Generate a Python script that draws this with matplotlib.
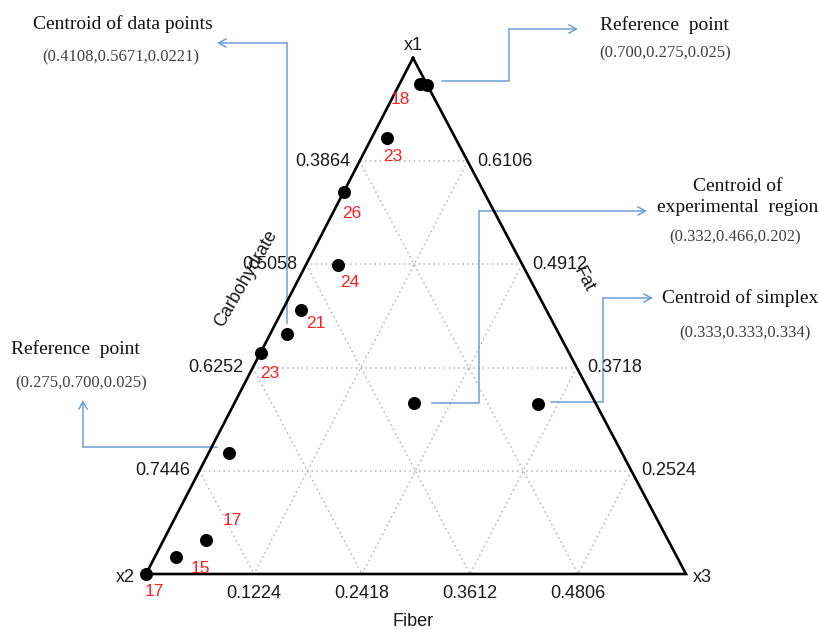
import matplotlib
matplotlib.use("Agg")
import matplotlib.pyplot as plt

# Mixture design points in the simplex (x1, x2, x3 proportions)
pts_x1 = [0.949, 0.947, 0.845, 0.740, 0.599, 0.512, 0.465, 0.428, 0.234, 0.066, 0.033, 0.000, 0.331, 0.329]
pts_x2 = [0.013, 0.000, 0.126, 0.260, 0.342, 0.454, 0.504, 0.571, 0.728, 0.855, 0.928, 1.000, 0.336, 0.108]
pts_x3 = [0.038, 0.053, 0.029, 0.000, 0.059, 0.034, 0.031, 0.001, 0.038, 0.079, 0.039, 0.000, 0.333, 0.563]
# Replicate counts written next to the points
run_labels = ["18", "", "23", "26", "24", "21", "", "23", "", "17", "15", "17", "", ""]

# Axis tick labels (grid levels at 0.2, 0.4, 0.6, 0.8 of each side)
grid_levels = [0.8, 0.6, 0.4, 0.2]
carb_ticks = ["0.3864", "0.5058", "0.6252", "0.7446"]
fat_ticks = ["0.6106", "0.4912", "0.3718", "0.2524"]
fiber_levels = [0.2, 0.4, 0.6, 0.8]
fiber_ticks = ["0.1224", "0.2418", "0.3612", "0.4806"]

# Callout texts
callouts = [
    ("Centroid of data points", "(0.4108,0.5671,0.0221)"),
    ("Reference  point", "(0.700,0.275,0.025)"),
    ("Centroid of\nexperimental  region", "(0.332,0.466,0.202)"),
    ("Centroid of simplex", "(0.333,0.333,0.334)"),
    ("Reference  point", "(0.275,0.700,0.025)"),
]

# ---- layout (canvas in pixels) ----
TOP = (413.0, 58.0)
LEFT = (146.0, 574.0)
RIGHT = (686.0, 574.0)

SANS = ["Liberation Sans", "DejaVu Sans"]
SERIF = ["Liberation Serif", "DejaVu Serif"]
BLUE = "#6f9fd6"


def to_xy(a, b, c):
    x = a * TOP[0] + b * LEFT[0] + c * RIGHT[0]
    y = a * TOP[1] + b * LEFT[1] + c * RIGHT[1]
    return x, y


fig = plt.figure(figsize=(8.2, 6.3), dpi=100)
ax = fig.add_axes([0, 0, 1, 1])
ax.set_xlim(0, 820)
ax.set_ylim(630, 0)
ax.axis("off")

# dotted grid
grid_kw = dict(color="#b5b5b5", lw=1.1, ls=(0, (1, 2.2)), zorder=1)
for f in fiber_levels:
    for p, q in [((f, 1 - f, 0), (f, 0, 1 - f)),
                 ((1 - f, f, 0), (0, f, 1 - f)),
                 ((1 - f, 0, f), (0, 1 - f, f))]:
        x0, y0 = to_xy(*p)
        x1_, y1_ = to_xy(*q)
        ax.plot([x0, x1_], [y0, y1_], **grid_kw)

# triangle outline
tx = [TOP[0], LEFT[0], RIGHT[0], TOP[0]]
ty = [TOP[1], LEFT[1], RIGHT[1], TOP[1]]
ax.plot(tx, ty, color="black", lw=1.9, zorder=3, solid_joinstyle="miter")

# tick labels
tick_kw = dict(fontsize=13, family=SANS, color="#1a1a1a", va="center")
for lev, lab in zip(grid_levels, carb_ticks):
    x, y = to_xy(lev, 1 - lev, 0)
    ax.text(x - 9, y, lab, ha="right", **tick_kw)
for lev, lab in zip(grid_levels, fat_ticks):
    x, y = to_xy(lev, 0, 1 - lev)
    ax.text(x + 10, y, lab, ha="left", **tick_kw)
for lev, lab in zip(fiber_levels, fiber_ticks):
    x, y = to_xy(0, 1 - lev, lev)
    ax.text(x, y + 20, lab, ha="center", **tick_kw)

# vertex and side labels
ax.text(TOP[0], TOP[1] - 13, "x1", ha="center", **tick_kw)
ax.text(LEFT[0] - 11, LEFT[1] + 3, "x2", ha="right", **tick_kw)
ax.text(RIGHT[0] + 7, RIGHT[1] + 3, "x3", ha="left", **tick_kw)
ax.text(413, 621, "Fiber", ha="center", **tick_kw)
ax.text(246, 279, "Carbohydrate", ha="center", rotation=60, rotation_mode="anchor", **tick_kw)
ax.text(584, 279, "Fat", ha="center", rotation=-62, rotation_mode="anchor", **tick_kw)

# design points
xs, ys = zip(*[to_xy(a, b, c) for a, b, c in zip(pts_x1, pts_x2, pts_x3)])
ax.scatter(xs, ys, s=88, color="black", zorder=5, linewidths=0)

label_offsets = [(-20, 15), None, (5, 19), (8, 21), (12, 18), (15, 14), None,
                 (9, 20), None, (26, -19), (25, 12), (8, 18), None, None]
for x, y, lab, off in zip(xs, ys, run_labels, label_offsets):
    if lab:
        ax.text(x + off[0], y + off[1], lab, color="#ff2020", fontsize=12.5,
                family=SANS, ha="center", va="center", zorder=6)

# callout connectors
conn_paths = [
    [(287, 323), (287, 43), (217, 43)],
    [(442, 81), (509, 81), (509, 29), (578, 29)],
    [(432, 403), (479, 403), (479, 211), (647, 211)],
    [(551, 402), (603, 402), (603, 298), (653, 298)],
    [(217, 447), (83, 447), (83, 400)],
]
for path in conn_paths:
    px = [p[0] for p in path[:-1]]
    py = [p[1] for p in path[:-1]]
    ax.plot(px, py, color=BLUE, lw=1.1, zorder=2, solid_joinstyle="miter")
    ax.annotate("", xy=path[-1], xytext=path[-2],
                arrowprops=dict(arrowstyle="->,head_length=0.55,head_width=0.3",
                                color=BLUE, lw=1.1, shrinkA=0, shrinkB=0), zorder=2)

# callout texts
title_kw = dict(fontsize=14, family=SERIF, color="#111111", ha="center", va="center")
coord_kw = dict(fontsize=12, family=SERIF, color="#404040", ha="center", va="center")
text_pos = [((123, 24), (121, 57)),
            ((664, 25), (665, 53)),
            ((738, 197), (735, 237)),
            ((740, 298), (745, 333)),
            ((75, 349), (81, 383))]
for (title, coords), (tp, cp) in zip(callouts, text_pos):
    ax.text(tp[0], tp[1], title, linespacing=1.3, **title_kw)
    ax.text(cp[0], cp[1], coords, **coord_kw)

fig.savefig("out.png", dpi=100, facecolor="white")
